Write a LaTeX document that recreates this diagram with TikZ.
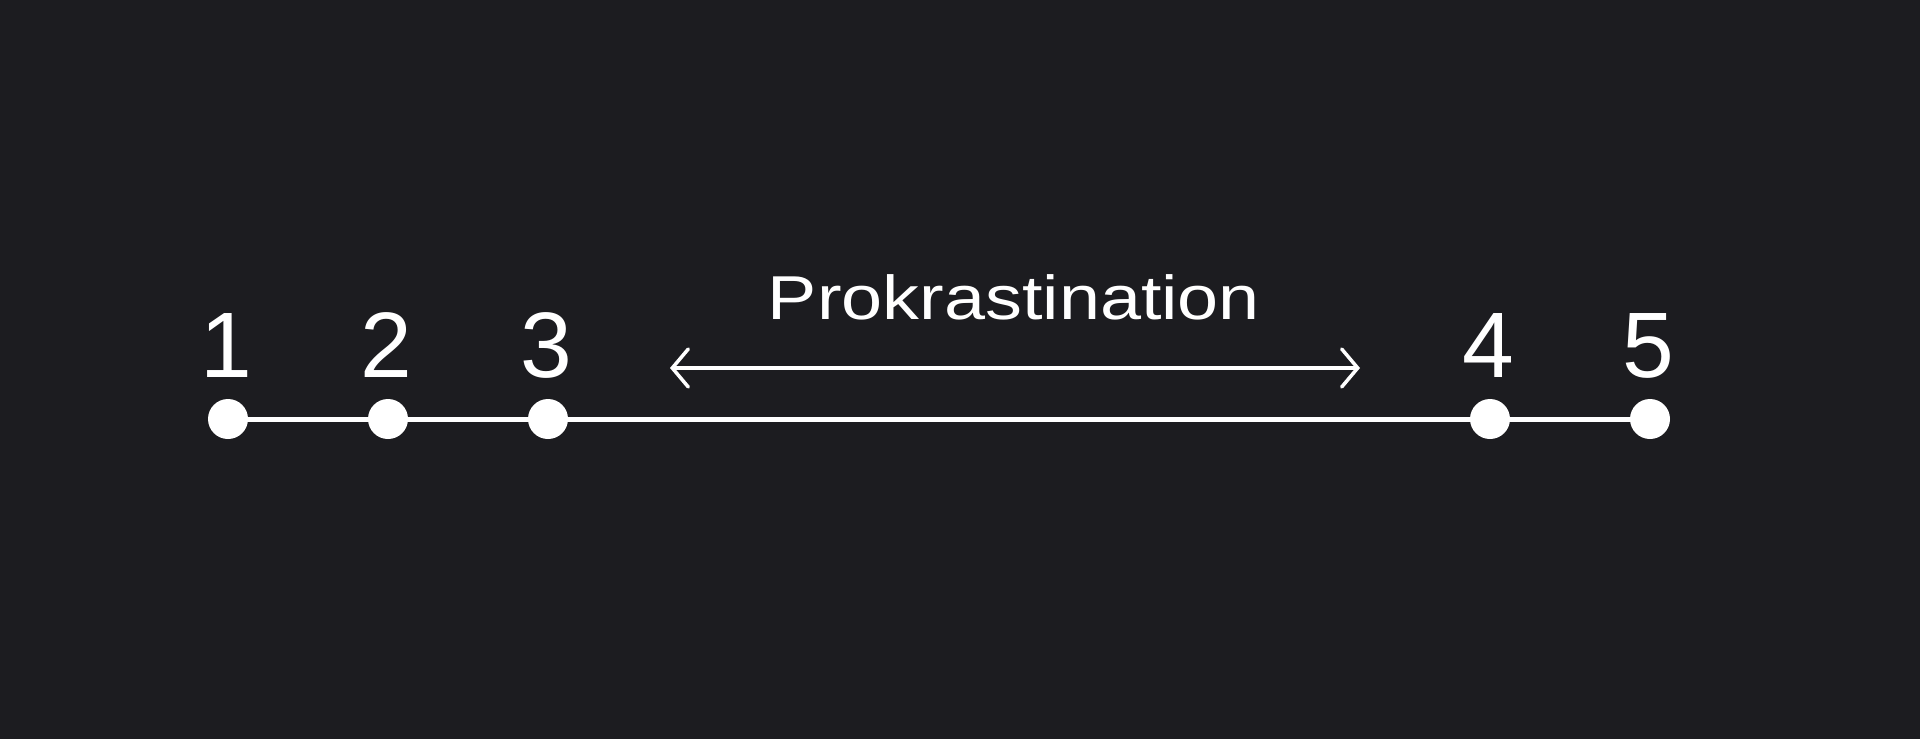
\documentclass[tikz,border=0pt]{standalone}
\usepackage{fontspec}
\usepackage{graphicx}
\setmainfont{Liberation Sans}
\usetikzlibrary{arrows.meta}
\definecolor{bg}{RGB}{28,28,32}
\begin{document}
\begin{tikzpicture}[x=1pt,y=-1pt,
  dot/.style={circle,fill=white,draw=none,minimum size=40pt,inner sep=0pt},
  num/.style={text=white,font=\fontsize{93}{100}\selectfont,anchor=base,inner sep=0pt},
  lbl/.style={text=white,font=\fontsize{62}{70}\selectfont,anchor=base,inner sep=0pt},
  axis/.style={draw=white,line width=5pt},
  span/.style={draw=white,line width=3.5pt,line cap=round,{Straight Barb[length=16pt,width=38pt,line cap=round]}-{Straight Barb[length=16pt,width=38pt,line cap=round]}}]
\fill[bg] (0,0) rectangle (1920,739);
\useasboundingbox (0,0) rectangle (1920,739);
\coordinate (c1) at (228,419);
\coordinate (c2) at (388,419);
\coordinate (c3) at (548,419);
\coordinate (c4) at (1490,419);
\coordinate (c5) at (1650,419);
\draw[axis] (c1) -- (c5);
\node[dot] (d1) at (c1) {};
\node[dot] (d2) at (c2) {};
\node[dot] (d3) at (c3) {};
\node[dot] (d4) at (c4) {};
\node[dot] (d5) at (c5) {};
\node[num] (n1) at (226,377) {1};
\node[num] (n2) at (386,377) {2};
\node[num] (n3) at (546,377) {3};
\node[num] (n4) at (1488,377) {4};
\node[num] (n5) at (1648,377) {5};
\node[lbl] (t) at (1014,319) {\scalebox{1.19}[1]{Prokrastination}};
\coordinate (al) at (670,368);
\coordinate (ar) at (1360,368);
\draw[span] (al) -- (ar);
\end{tikzpicture}
\end{document}
